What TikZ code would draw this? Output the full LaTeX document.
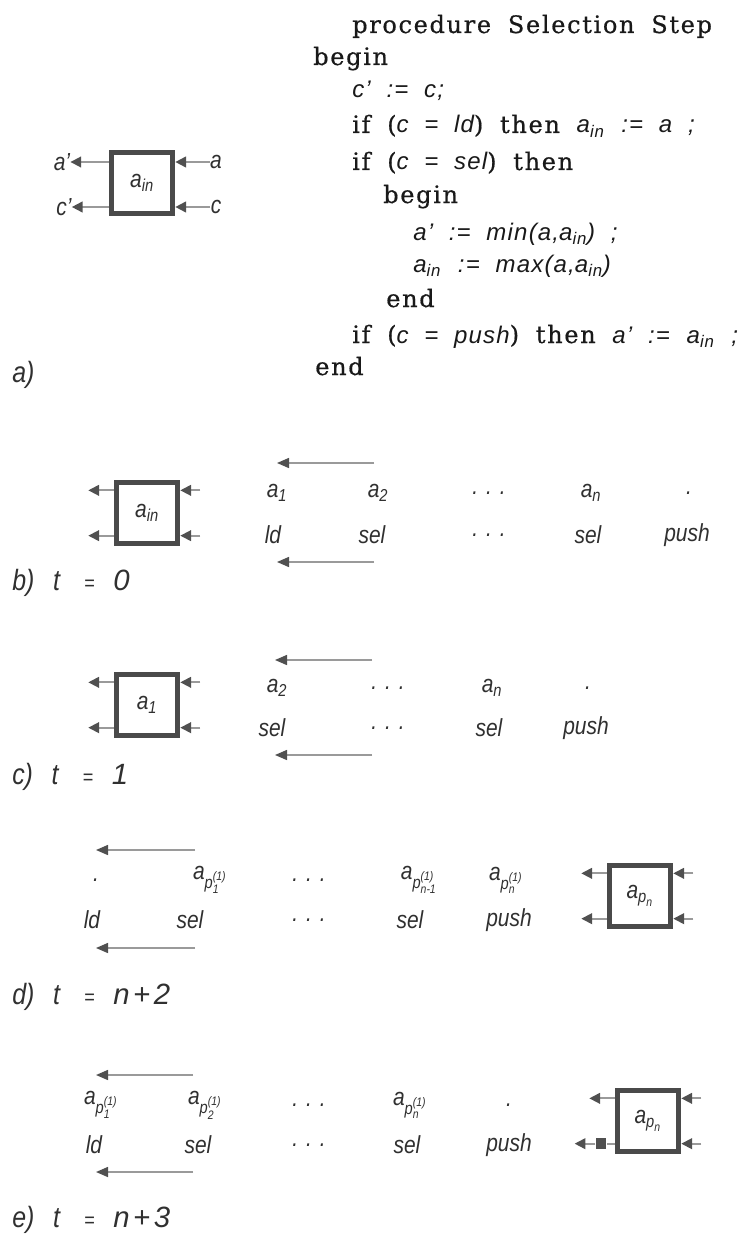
\documentclass[tikz,border=0pt]{standalone}
\usepackage{amsmath}
\usepackage{fontspec}
\setmainfont[LetterSpace=7, WordSpace=1.8, FakeBold=0.6]{DejaVu Serif}
\newfontfamily\varfam[FakeStretch=0.85]{Liberation Sans}
\newfontfamily\codefam[LetterSpace=5, WordSpace=2]{Liberation Sans}
\newfontfamily\capfam[LetterSpace=12]{Liberation Sans}
\usetikzlibrary{arrows.meta, positioning}
\definecolor{cbox}{HTML}{4a4a4a}
\definecolor{cline}{HTML}{9a9a9a}
\definecolor{chead}{HTML}{505050}
\definecolor{ctext}{HTML}{303030}
\newcommand\vv[1]{\text{\varfam\itshape #1}}
\newcommand\cv[1]{\text{\codefam\itshape #1}}
\newcommand\ain{$\vv{a}_{\vv{in}}$}
\newcommand\cain{$\cv{a}_{\cv{in}}$}
\newcommand\ddd{.\hspace{6pt}.\hspace{6pt}.}
\newcommand\tcap[2]{#1)\hspace{14pt}t\hspace{18pt}{\fontsize{16}{16}\selectfont =}\hspace{14pt}{\capfam\itshape #2}}

\begin{document}
\begin{tikzpicture}[
  x=0.75pt, y=-0.75pt,
  code/.style={anchor=base west, inner sep=0pt, text=black!90, font=\fontsize{18}{21}\selectfont},
  var/.style={inner sep=0pt, text=ctext, font=\fontsize{18.5}{22}\selectfont\varfam\itshape},
  cellbox/.style={draw=cbox, line width=4pt, minimum width=46pt, minimum height=46pt,
    inner sep=0pt, text=ctext, font=\fontsize{18.5}{22}\selectfont\varfam\itshape},
  plug/.style={fill=chead, minimum width=8pt, minimum height=8pt, inner sep=0pt},
  port/.style={draw=cline, line width=1.3pt, -{Triangle[length=8pt,width=8pt,color=chead]}},
  flow/.style={draw=cline, line width=1.1pt, -{Triangle[length=9pt,width=7.5pt,color=chead]}},
  caption/.style={anchor=west, inner sep=0pt, text=ctext, font=\fontsize{22}{25}\selectfont\varfam\itshape},
]
\useasboundingbox (0,0) rectangle (756,1234);

% a) the cell and its program
\node[cellbox] (ba) at (142,183) {\ain};
\node[var] (lao) at (62,162) {a’};
\node[var] (lco) at (64,207) {c’};
\node[var] (lai) at (216,162) {a};
\node[var] (lci) at (216,207) {c};
\draw[port] (lai) -- (lai -| ba.east);
\draw[port] (lci) -- (lci -| ba.east);
\draw[port] (lao -| ba.west) -- (lao);
\draw[port] (lco -| ba.west) -- (lco);
\node[caption] (cap-a) at (12,375) {a)};

\node[code] (l1) at (352,33) {procedure Selection Step};
\node[code] (l2) at (313,65) {begin};
\node[code] (l3) at (352,98) {\cv{c’ := c;}};
\node[code] (l4) at (352,133) {if (\cv{c = ld}) then \cain{} \cv{:= a ;}};
\node[code] (l5) at (352,170) {if (\cv{c = sel}) then};
\node[code] (l6) at (383,203) {begin};
\node[code] (l7) at (413,240) {\cv{a’ := min(a,}\cain\cv{) ;}};
\node[code] (l8) at (413,272) {\cain{} \cv{:= max(a,}\cain\cv{)}};
\node[code] (l9) at (386,307) {end};
\node[code] (l10) at (352,343) {if (\cv{c = push}) then \cv{a’ :=} \cain{} \cv{;}};
\node[code] (l11) at (315,375) {end};

% b) t = 0
\node[cellbox] (bb) at (147,513) {\ain};
\foreach \x/\t [count=\i] in {277/{$\vv{a}_{\vv{1}}$}, 378/{$\vv{a}_{\vv{2}}$},
    489/\ddd, 591/{$\vv{a}_{\vv{n}}$}, 689/.}
  \node[var] (b-a\i) at (\x,493) {\t};
\foreach \x/\t [count=\i] in {273/ld, 372/sel, 489/\ddd, 588/sel, 687/push}
  \node[var] (b-c\i) at (\x,535) {\t};
\node[caption] (cap-b) at (12,583) {\tcap{b}{0}};

% c) t = 1
\node[cellbox] (bc) at (147,705) {$\vv{a}_{\vv{1}}$};
\foreach \x/\t [count=\i] in {277/{$\vv{a}_{\vv{2}}$}, 388/\ddd, 492/{$\vv{a}_{\vv{n}}$}, 588/.}
  \node[var] (c-a\i) at (\x,688) {\t};
\foreach \x/\t [count=\i] in {272/sel, 388/\ddd, 489/sel, 586/push}
  \node[var] (c-c\i) at (\x,728) {\t};
\node[caption] (cap-c) at (12,777) {\tcap{c}{1}};

% d) t = n+2
\node[cellbox] (bd) at (640,896) {$\vv{a}_{\vv{p}_{\vv{n}}}$};
\foreach \x/\t [count=\i] in {96/., 210/{$\vv{a}_{\vv{p}_{\vv{1}}^{\vv{(1)}}}$}, 309/\ddd,
    419/{$\vv{a}_{\vv{p}_{\vv{n-1}}^{\vv{(1)}}}$}, 506/{$\vv{a}_{\vv{p}_{\vv{n}}^{\vv{(1)}}}$}}
  \node[var] (d-a\i) at (\x,880) {\t};
\foreach \x/\t [count=\i] in {92/ld, 190/sel, 309/\ddd, 410/sel, 509/push}
  \node[var] (d-c\i) at (\x,920) {\t};
\node[caption] (cap-d) at (12,997) {\tcap{d}{n+2}};

% e) t = n+3
\node[cellbox] (be) at (648,1121) {$\vv{a}_{\vv{p}_{\vv{n}}}$};
\foreach \x/\t [count=\i] in {101/{$\vv{a}_{\vv{p}_{\vv{1}}^{\vv{(1)}}}$}, 205/{$\vv{a}_{\vv{p}_{\vv{2}}^{\vv{(1)}}}$},
    309/\ddd, 410/{$\vv{a}_{\vv{p}_{\vv{n}}^{\vv{(1)}}}$}, 509/.}
  \node[var] (e-a\i) at (\x,1105) {\t};
\foreach \x/\t [count=\i] in {94/ld, 198/sel, 309/\ddd, 407/sel, 509/push}
  \node[var] (e-c\i) at (\x,1145) {\t};
\node[caption] (cap-e) at (12,1220) {\tcap{e}{n+3}};

% ports of the cells
\foreach \bx in {bb,bc,bd,be}{
  \coordinate (\bx-ai) at ([shift={(15pt,17pt)}]\bx.east);
  \coordinate (\bx-ci) at ([shift={(15pt,-17pt)}]\bx.east);
  \coordinate (\bx-ao) at ([shift={(-19pt,17pt)}]\bx.west);
  \draw[port] (\bx-ai) -- (\bx-ai -| \bx.east);
  \draw[port] (\bx-ci) -- (\bx-ci -| \bx.east);
  \draw[port] (\bx-ao -| \bx.west) -- (\bx-ao);
}
\foreach \bx in {bb,bc,bd}{
  \coordinate (\bx-co) at ([shift={(-19pt,-17pt)}]\bx.west);
  \draw[port] (\bx-co -| \bx.west) -- (\bx-co);
}
\coordinate (be-co) at ([shift={(-30pt,-17pt)}]be.west);
\node[plug, yshift=-17pt, left=6pt of be.west] (be-sq) {};
\draw[draw=cline, line width=1.3pt] (be-sq -| be.west) -- (be-sq);
\draw[port] (be-sq) -- (be-co);

% shift arrows over and under the streams
\foreach \p/\xl/\xr/\yt/\yb in {b/277/374/463/562, c/275/372/660/755,
    d/96/195/850/948, e/96/193/1075/1172}{
  \coordinate (\p-tr) at (\xr,\yt);
  \coordinate (\p-tl) at (\xl,\yt);
  \coordinate (\p-br) at (\xr,\yb);
  \coordinate (\p-bl) at (\xl,\yb);
  \draw[flow] (\p-tr) -- (\p-tl);
  \draw[flow] (\p-br) -- (\p-bl);
}
\end{tikzpicture}
\end{document}
